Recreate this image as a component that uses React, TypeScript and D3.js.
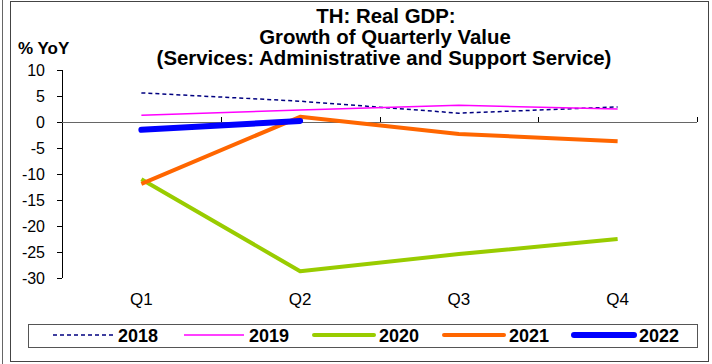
import React from "react";
import * as d3 from "d3";

const quarters = ["Q1", "Q2", "Q3", "Q4"];
const yTicks = [10, 5, 0, -5, -10, -15, -20, -25, -30];
const years = ["2018", "2019", "2020", "2021", "2022"];
const s2018 = [5.6, 4.0, 1.7, 2.9];
const s2019 = [1.3, 2.3, 3.2, 2.5];
const s2020 = [-11.0, -28.7, -25.4, -22.5];
const s2021 = [-11.9, 1.0, -2.3, -3.7];
const s2022 = [-1.5, 0.2];

const seriesValues = [s2018, s2019, s2020, s2021, s2022];
const colors = ["#000080", "#ff00ff", "#99cc00", "#ff6600", "#0000ff"];
const widths = [1.5, 1.5, 4, 4, 6];
const dashes = ["4,3", null, null, null, null];

const W = 712;
const H = 364;
const plotLeft = 62;
const plotRight = 697;
const plotTop = 70;
const plotBottom = 278;

export default function App() {
  const x = d3.scaleBand<string>().domain(quarters).range([plotLeft, plotRight]);
  const y = d3.scaleLinear().domain([-30, 10]).range([plotBottom, plotTop]);
  const cx = (q: string) => (x(q) as number) + x.bandwidth() / 2;
  const line = d3
    .line<number>()
    .x((_, i) => cx(quarters[i]))
    .y((d) => y(d));

  const font = "Arial, 'Liberation Sans', Helvetica, sans-serif";
  const legendStarts = [53, 184, 314, 444, 574];

  return (
    <svg
      width={W}
      height={H}
      style={{ position: "absolute", left: 0, top: 0, background: "#fff" }}
      fontFamily={font}
    >
      <rect x={0} y={0} width={W} height={H} fill="#fff" />
      <line x1={2.5} x2={2.5} y1={0} y2={H} stroke="#666" strokeWidth={1} />
      <rect x={10.5} y={1.5} width={698} height={360} fill="#fff" stroke="#444" strokeWidth={1} />

      {/* title */}
      <g fontWeight="bold" fontSize={20.4} textAnchor="middle" fill="#000">
        <text x={386} y={23}>TH: Real GDP:</text>
        <text x={385} y={44}>Growth of Quarterly Value</text>
        <text x={384} y={65}>(Services: Administrative and Support Service)</text>
      </g>
      <text x={18} y={54} fontWeight="bold" fontSize={17}>% YoY</text>

      {/* y axis */}
      <line x1={plotLeft + 0.5} x2={plotLeft + 0.5} y1={plotTop} y2={plotBottom} stroke="#000" />
      {yTicks.map((t) => (
        <g key={t}>
          <line x1={plotLeft - 5} x2={plotLeft} y1={Math.round(y(t)) + 0.5} y2={Math.round(y(t)) + 0.5} stroke="#000" />
          <text x={45} y={y(t) + 6} textAnchor="end" fontSize={16} fill="#000">
            {t}
          </text>
        </g>
      ))}

      {/* x axis at zero */}
      <line x1={plotLeft} x2={plotRight} y1={Math.round(y(0)) + 0.5} y2={Math.round(y(0)) + 0.5} stroke="#666" />
      {quarters.map((q) => (
        <line
          key={q}
          x1={Math.round((x(q) as number) + x.bandwidth()) + 0.5}
          x2={Math.round((x(q) as number) + x.bandwidth()) + 0.5}
          y1={y(0) - 5}
          y2={y(0)}
          stroke="#000"
        />
      ))}
      {quarters.map((q) => (
        <text key={q} x={cx(q)} y={305} textAnchor="middle" fontSize={17} fill="#000">
          {q}
        </text>
      ))}

      {/* series */}
      {seriesValues.map((vals, i) => (
        <path
          key={years[i]}
          d={line(vals) || ""}
          fill="none"
          stroke={colors[i]}
          strokeWidth={widths[i]}
          strokeDasharray={dashes[i] || undefined}
          strokeLinecap={i === 4 ? "round" : "butt"}
          strokeLinejoin="round"
        />
      ))}

      {/* legend */}
      <rect x={28.5} y={324.5} width={669} height={23} fill="#fff" stroke="#555" />
      {years.map((yr, i) => (
        <g key={yr}>
          <line
            x1={legendStarts[i]}
            x2={legendStarts[i] + 60}
            y1={335}
            y2={335}
            stroke={colors[i]}
            strokeWidth={widths[i]}
            strokeDasharray={dashes[i] || undefined}
            strokeLinecap={i >= 2 ? "round" : "butt"}
          />
          <text x={legendStarts[i] + 65} y={342} fontWeight="bold" fontSize={18} fill="#000">
            {yr}
          </text>
        </g>
      ))}
    </svg>
  );
}
